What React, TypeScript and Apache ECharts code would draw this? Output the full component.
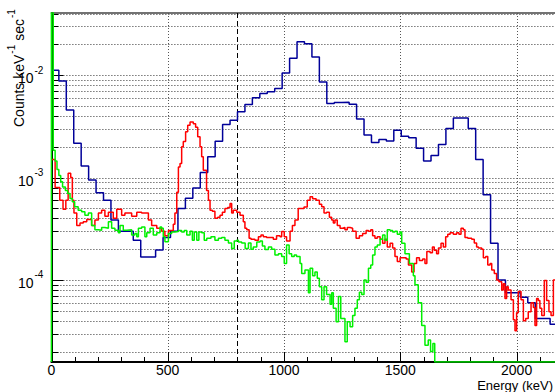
import React, { useEffect, useRef } from 'react';
import * as echarts from 'echarts';

const X_MIN = 0;
const X_MAX = 2165;
const Y_MIN = 1.582e-5;
const Y_MAX = 0.0405;

// Blue histogram: 32 keV bins starting at 0 keV
const BLUE_BIN_WIDTH = 32;
const BLUE_VALUES = [
  0.0112, 0.0088, 0.00456, 0.00216, 0.0013, 0.00095, 0.00071, 0.0006,
  0.000385, 0.0003, 0.0003, 0.000245, 0.000168, 0.000168, 0.000196, 0.00026,
  0.0003, 0.0005, 0.00063, 0.00079, 0.00112, 0.0016, 0.00227, 0.0033,
  0.00364, 0.00439, 0.00518, 0.00601, 0.00663, 0.0069, 0.0074, 0.0105,
  0.0146, 0.0212, 0.0203, 0.0151, 0.0086, 0.0053, 0.0054, 0.00545,
  0.0052, 0.00373, 0.0026, 0.0022, 0.00236, 0.00228, 0.0029, 0.00254,
  0.00245, 0.00193, 0.00145, 0.00164, 0.00211, 0.00302, 0.00383, 0.00383,
  0.00302, 0.0015, 0.00068, 0.000228, 0.0001, 0.000075, 0.000075, 0.000068,
  0.00006, 0.000042, 0.000042, 0.000037,
];

// Red histogram: [left bin edge keV, value]
const RED_BINS: [number, number][] = [
  [0, 1.5e-3], [16, 8.0e-4], [36, 6.0e-4], [50, 4.9e-4], [62, 6.0e-4], [72, 1.1e-3], [83, 1.0e-3], [90, 6.0e-4],
  [97, 4.5e-4], [109, 3.4e-4], [123, 3.6e-4], [137, 3.7e-4], [152, 3.9e-4], [173, 3.4e-4], [187, 3.85e-4], [202, 4.5e-4],
  [216, 4.8e-4], [230, 4.2e-4], [245, 4.6e-4], [266, 4.0e-4], [281, 4.9e-4], [302, 4.3e-4], [316, 4.5e-4], [345, 4.2e-4],
  [367, 4.6e-4], [388, 4.5e-4], [417, 3.85e-4], [431, 3.4e-4], [453, 3.2e-4], [474, 3.0e-4], [488, 2.7e-4], [503, 3.05e-4],
  [524, 3.5e-4], [531, 4.5e-4], [539, 7.2e-4], [546, 1.27e-3], [553, 1.37e-3], [560, 2.0e-3], [567, 2.25e-3], [577, 2.8e-3],
  [586, 3.25e-3], [596, 3.5e-3], [610, 3.35e-3], [620, 3.1e-3], [629, 2.5e-3], [639, 2.0e-3], [646, 1.6e-3], [653, 1.18e-3],
  [667, 7.5e-4], [675, 6.0e-4], [682, 4.8e-4], [692, 4.7e-4], [703, 4.0e-4], [715, 4.1e-4], [725, 4.3e-4], [735, 4.6e-4],
  [746, 5.0e-4], [758, 5.1e-4], [768, 5.6e-4], [775, 4.5e-4], [782, 4.8e-4], [797, 4.6e-4], [811, 4.3e-4], [825, 3.7e-4],
  [832, 3.2e-4], [840, 3.1e-4], [850, 2.55e-4], [858, 2.5e-4], [875, 2.45e-4], [890, 2.65e-4], [901, 2.75e-4], [911, 2.65e-4],
  [925, 2.6e-4], [940, 2.6e-4], [954, 2.5e-4], [968, 2.7e-4], [983, 2.65e-4], [990, 2.97e-4], [1001, 2.65e-4], [1011, 2.4e-4],
  [1026, 3.0e-4], [1036, 3.4e-4], [1047, 3.85e-4], [1061, 5.0e-4], [1086, 5.15e-4], [1100, 6.0e-4], [1112, 6.5e-4], [1123, 6.2e-4],
  [1138, 6.0e-4], [1152, 5.5e-4], [1162, 5.2e-4], [1172, 4.5e-4], [1183, 4.6e-4], [1195, 4.1e-4], [1205, 3.85e-4], [1212, 3.6e-4],
  [1219, 3.85e-4], [1229, 3.4e-4], [1241, 3.2e-4], [1252, 3.25e-4], [1262, 3.1e-4], [1272, 3.25e-4], [1284, 3.2e-4], [1295, 3.0e-4],
  [1310, 2.55e-4], [1324, 2.7e-4], [1338, 2.85e-4], [1353, 3.05e-4], [1363, 3.0e-4], [1373, 3.1e-4], [1381, 2.7e-4], [1391, 2.55e-4],
  [1401, 2.65e-4], [1413, 2.5e-4], [1424, 2.28e-4], [1434, 2.5e-4], [1444, 2.1e-4], [1456, 2.28e-4], [1467, 2.05e-4], [1477, 1.7e-4],
  [1487, 1.52e-4], [1499, 1.65e-4], [1525, 1.6e-4], [1535, 1.4e-4], [1549, 1.2e-4], [1559, 1.45e-4], [1570, 1.65e-4], [1582, 1.55e-4],
  [1596, 1.6e-4], [1606, 1.45e-4], [1614, 1.9e-4], [1628, 1.85e-4], [1638, 2.1e-4], [1646, 1.95e-4], [1656, 1.8e-4], [1664, 2.05e-4],
  [1675, 2.28e-4], [1685, 2.1e-4], [1695, 2.65e-4], [1704, 2.8e-4], [1714, 2.9e-4], [1728, 2.8e-4], [1742, 2.9e-4], [1752, 2.8e-4],
  [1761, 3.2e-4], [1771, 3.1e-4], [1778, 2.6e-4], [1790, 2.55e-4], [1807, 2.5e-4], [1818, 2.3e-4], [1828, 2.1e-4], [1836, 2.05e-4],
  [1850, 2.0e-4], [1857, 1.65e-4], [1867, 1.7e-4], [1876, 1.4e-4], [1886, 1.45e-4], [1893, 1.25e-4], [1904, 1.16e-4], [1914, 1.0e-4],
  [1924, 9.6e-5], [1936, 8.0e-5], [1943, 9.2e-5], [1950, 6.6e-5], [1957, 8.6e-5], [1964, 8.0e-5], [1976, 6.4e-5], [1986, 4.1e-5],
  [1993, 3.2e-5], [2000, 4.8e-5], [2007, 7.7e-5], [2019, 6.4e-5], [2029, 4.0e-5], [2039, 4.2e-5], [2050, 4.9e-5], [2062, 6.0e-5],
  [2072, 5.4e-5], [2079, 3.6e-5], [2086, 6.6e-5], [2093, 6.3e-5], [2100, 5.3e-5], [2108, 4.5e-5], [2119, 9.9e-5], [2129, 6.3e-5],
  [2139, 4.9e-5], [2148, 4.5e-5], [2158, 1.0e-4],
];

// Green histogram: [left bin edge keV, value]; first bin goes off the top, empty bins sit on the floor
const GREEN_BINS: [number, number][] = [
  [0, 0.1], [8, 1.85e-3], [16, 1.45e-3], [24, 1.2e-3], [32, 1.05e-3], [40, 9.1e-4], [48, 8.1e-4], [60, 7.5e-4],
  [70, 7.0e-4], [80, 6.25e-4], [90, 5.8e-4], [100, 5.2e-4], [115, 4.8e-4], [130, 4.64e-4], [144, 4.3e-4], [159, 4.5e-4],
  [173, 3.4e-4], [187, 3.1e-4], [202, 3.06e-4], [216, 3.25e-4], [230, 3.2e-4], [245, 3.7e-4], [259, 3.2e-4], [273, 3.06e-4],
  [288, 2.9e-4], [295, 3.4e-4], [309, 3.06e-4], [324, 3.1e-4], [345, 2.75e-4], [359, 2.85e-4], [367, 2.65e-4], [374, 3.2e-4],
  [388, 3.3e-4], [402, 2.65e-4], [410, 2.9e-4], [424, 3.2e-4], [438, 2.75e-4], [453, 2.9e-4], [467, 3.3e-4], [474, 3.2e-4],
  [481, 2.65e-4], [488, 2.36e-4], [503, 2.85e-4], [517, 2.95e-4], [531, 2.97e-4], [546, 3.05e-4], [560, 2.95e-4], [571, 3.05e-4],
  [582, 2.75e-4], [596, 3.0e-4], [606, 2.45e-4], [614, 2.95e-4], [625, 2.45e-4], [634, 2.95e-4], [646, 2.9e-4], [657, 2.45e-4],
  [668, 2.55e-4], [686, 2.65e-4], [703, 2.45e-4], [718, 2.55e-4], [732, 2.6e-4], [746, 2.45e-4], [761, 2.3e-4], [775, 2.03e-4],
  [786, 2.4e-4], [797, 2.45e-4], [804, 2.35e-4], [818, 2.3e-4], [833, 2.03e-4], [847, 2.3e-4], [858, 2.0e-4], [868, 2.1e-4],
  [883, 2.35e-4], [897, 2.4e-4], [907, 2.15e-4], [918, 1.98e-4], [933, 2.1e-4], [947, 2.0e-4], [961, 1.75e-4], [976, 1.8e-4],
  [990, 1.7e-4], [1001, 1.45e-4], [1011, 2.2e-4], [1022, 1.8e-4], [1033, 1.7e-4], [1044, 1.75e-4], [1054, 1.7e-4], [1069, 1.45e-4],
  [1076, 1.16e-4], [1090, 1.25e-4], [1105, 7.5e-5], [1112, 1.3e-4], [1123, 1.1e-4], [1133, 1.2e-4], [1143, 1.04e-4], [1152, 8.6e-5],
  [1162, 6.4e-5], [1172, 8.6e-5], [1183, 7.2e-5], [1198, 5.8e-5], [1205, 7.5e-5], [1212, 5.3e-5], [1224, 3.9e-5], [1234, 6.9e-5],
  [1244, 4.2e-5], [1262, 2.5e-5], [1272, 3.9e-5], [1284, 3.5e-5], [1295, 4.5e-5], [1305, 5.3e-5], [1315, 6.4e-5], [1324, 7.6e-5],
  [1334, 7.2e-5], [1344, 1.0e-4], [1353, 9.5e-5], [1363, 1.3e-4], [1373, 1.4e-4], [1381, 1.75e-4], [1391, 2.1e-4], [1401, 2.2e-4],
  [1413, 2.5e-4], [1424, 2.75e-4], [1434, 2.45e-4], [1444, 3.1e-4], [1456, 3.05e-4], [1467, 2.95e-4], [1477, 3.0e-4], [1487, 2.8e-4],
  [1499, 2.95e-4], [1506, 2.28e-4], [1520, 1.8e-4], [1539, 1.45e-4], [1556, 1.1e-4], [1563, 9.0e-5], [1577, 6.0e-5], [1592, 3.6e-5],
  [1606, 2.3e-5], [1620, 2.6e-5], [1630, 2.0e-5], [1640, 2.4e-5], [1648, Y_MIN],
];

const X_TICKS = [0, 100, 200, 300, 400, 500, 600, 700, 800, 900, 1000, 1100, 1200, 1300, 1400, 1500, 1600, 1700, 1800, 1900, 2000, 2100];
const X_GRID = [500, 1000, 1500, 2000];
const X_LABEL_STEP = 500;
const MARKER_X = 800;
const Y_GRID = [
  2e-5, 3e-5, 4e-5, 5e-5, 6e-5, 7e-5, 8e-5, 9e-5,
  1e-4, 2e-4, 3e-4, 4e-4, 5e-4, 6e-4, 7e-4, 8e-4, 9e-4,
  1e-3, 2e-3, 3e-3, 4e-3, 5e-3, 6e-3, 7e-3, 8e-3, 9e-3,
  1e-2, 2e-2, 3e-2, 4e-2,
];

const FONT = "'Liberation Sans', Arial, Helvetica, sans-serif";

function isDecade(v: number) {
  const e = Math.log10(v);
  return Math.abs(e - Math.round(e)) < 1e-6;
}

function stepSeries(bins: [number, number][], end: number, baseline: boolean) {
  const d: number[][] = [];
  if (baseline) d.push([bins[0][0], Y_MIN]);
  bins.forEach(([x, v]) => d.push([x, v]));
  d.push([end, bins[bins.length - 1][1]]);
  return d;
}

export default function App() {
  const ref = useRef<HTMLDivElement>(null);
  useEffect(() => {
    if (!ref.current) return;
    const chart = echarts.init(ref.current, null, { renderer: 'svg' });

    const blueBins: [number, number][] = BLUE_VALUES.map((v, i) => [i * BLUE_BIN_WIDTH, v]);
    const blueData = stepSeries(blueBins, BLUE_VALUES.length * BLUE_BIN_WIDTH, false);
    const redData = stepSeries(RED_BINS, X_MAX, false);
    const greenData = stepSeries(GREEN_BINS, X_MAX, true);

    const guideData: number[][] = [];
    Y_GRID.forEach((v) => guideData.push([X_MIN, v, 0]));
    X_GRID.forEach((x) => guideData.push([x, 1e-3, 1]));
    X_TICKS.forEach((x) => guideData.push([x, 1e-3, 2]));
    guideData.push([MARKER_X, 1e-3, 3]);

    const supRich = {
      b: { fontSize: 14, lineHeight: 20, verticalAlign: 'bottom', fontFamily: FONT, color: '#000' },
      s: { fontSize: 10, lineHeight: 10, verticalAlign: 'top', fontFamily: FONT, color: '#000', padding: [0, 0, 0, 1] },
    };
    const supRichFill = {
      b: { fontSize: 14, lineHeight: 20, verticalAlign: 'bottom', fontFamily: FONT, fill: '#000' },
      s: { fontSize: 10, lineHeight: 10, verticalAlign: 'top', fontFamily: FONT, fill: '#000', padding: [0, 0, 0, 1] },
    };

    const option: any = {
      animation: false,
      backgroundColor: '#fff',
      grid: { left: 51.4, top: 13, right: 0, bottom: 30, containLabel: false, outerBoundsMode: 'none' },
      xAxis: [
        {
          type: 'value',
          min: X_MIN,
          max: X_MAX,
          interval: X_LABEL_STEP,
          axisLine: { show: true, onZero: false, lineStyle: { color: '#000', width: 2 } },
          axisTick: { show: false },
          splitLine: { show: false },
          axisLabel: {
            show: true,
            margin: 1,
            color: '#000',
            fontSize: 14,
            lineHeight: 14,
            fontFamily: FONT,
            showMaxLabel: false,
            formatter: (v: number) => (Math.abs(v % X_LABEL_STEP) < 1e-6 ? String(v) : ''),
          },
        },
        {
          type: 'value',
          position: 'top',
          min: X_MIN,
          max: X_MAX,
          axisLine: { show: true, onZero: false, lineStyle: { color: '#444', width: 1.5 } },
          axisTick: { show: false },
          axisLabel: { show: false },
          splitLine: { show: false },
        },
      ],
      yAxis: {
        type: 'log',
        logBase: 10,
        min: Y_MIN,
        max: Y_MAX,
        axisLine: { show: true, lineStyle: { color: '#000', width: 2 } },
        axisTick: { show: false },
        splitLine: { show: false },
        minorSplitLine: { show: false },
        axisLabel: {
          show: true,
          margin: 8,
          formatter: (v: number) => {
            if (!isDecade(v)) return '';
            const e = Math.round(Math.log10(v));
            return `{b|10}{s|${e}}`;
          },
          rich: supRich,
        },
      },
      graphic: [
        {
          type: 'text',
          x: 16,
          y: 127,
          rotation: Math.PI / 2,
          silent: true,
          style: {
            text: '{b|Counts keV}{s|-1}{b| sec}{s|-1}',
            rich: supRichFill,
            align: 'left',
            verticalAlign: 'middle',
            fill: '#000',
          },
        },
        {
          type: 'text',
          x: 553,
          y: 385.5,
          silent: true,
          style: {
            text: 'Energy (keV)',
            fontSize: 13,
            lineHeight: 13,
            fontFamily: FONT,
            fill: '#000',
            align: 'right',
            verticalAlign: 'middle',
          },
        },
      ],
      series: [
        {
          type: 'custom',
          coordinateSystem: 'cartesian2d',
          xAxisIndex: 0,
          yAxisIndex: 0,
          silent: true,
          z: 1,
          encode: { x: 0, y: 1 },
          data: guideData,
          renderItem: (params: any, api: any) => {
            const cs = params.coordSys;
            const kind = api.value(2);
            const left = cs.x;
            const right = cs.x + cs.width;
            const top = cs.y;
            const bottom = cs.y + cs.height;
            if (kind === 0) {
              const v = api.value(1);
              const y = Math.round(api.coord([X_MIN, v])[1]) + 0.5;
              const major = isDecade(v);
              return {
                type: 'group',
                children: [
                  { type: 'line', shape: { x1: left, y1: y, x2: right, y2: y }, style: { stroke: '#333', lineWidth: 1, lineDash: [1, 2] } },
                  { type: 'line', shape: { x1: left, y1: y, x2: left + (major ? 12 : 7), y2: y }, style: { stroke: '#000', lineWidth: 1 } },
                ],
              };
            }
            const xv = api.value(0);
            const x = Math.round(api.coord([xv, 1e-3])[0]) + 0.5;
            if (kind === 1) {
              return { type: 'line', shape: { x1: x, y1: top, x2: x, y2: bottom }, style: { stroke: '#555', lineWidth: 1, lineDash: [1, 2] } };
            }
            if (kind === 2) {
              const major = Math.abs(xv % X_LABEL_STEP) < 1e-6;
              return { type: 'line', shape: { x1: x, y1: bottom, x2: x, y2: bottom - (major ? 10 : 5) }, style: { stroke: '#000', lineWidth: 1 } };
            }
            return { type: 'line', shape: { x1: x, y1: top, x2: x, y2: bottom }, style: { stroke: '#000', lineWidth: 1, lineDash: [5, 3] } };
          },
        },
        {
          name: 'blue',
          type: 'line',
          data: blueData,
          step: 'end',
          symbol: 'none',
          showSymbol: false,
          clip: true,
          silent: true,
          z: 3,
          lineStyle: { color: '#000099', width: 1.5 },
          itemStyle: { color: '#000099' },
        },
        {
          name: 'red',
          type: 'line',
          data: redData,
          step: 'end',
          symbol: 'none',
          showSymbol: false,
          clip: true,
          silent: true,
          z: 3,
          lineStyle: { color: '#ff0000', width: 1.5 },
          itemStyle: { color: '#ff0000' },
        },
        {
          name: 'green',
          type: 'line',
          data: greenData,
          step: 'end',
          symbol: 'none',
          showSymbol: false,
          clip: true,
          silent: true,
          z: 3,
          lineStyle: { color: '#00f000', width: 1.5 },
          itemStyle: { color: '#00f000' },
        },
      ],
    };

    chart.setOption(option);
    return () => chart.dispose();
  }, []);

  return (
    <div
      ref={ref}
      style={{ position: 'absolute', left: 0, top: 0, width: 555, height: 392, background: '#fff' }}
    />
  );
}
